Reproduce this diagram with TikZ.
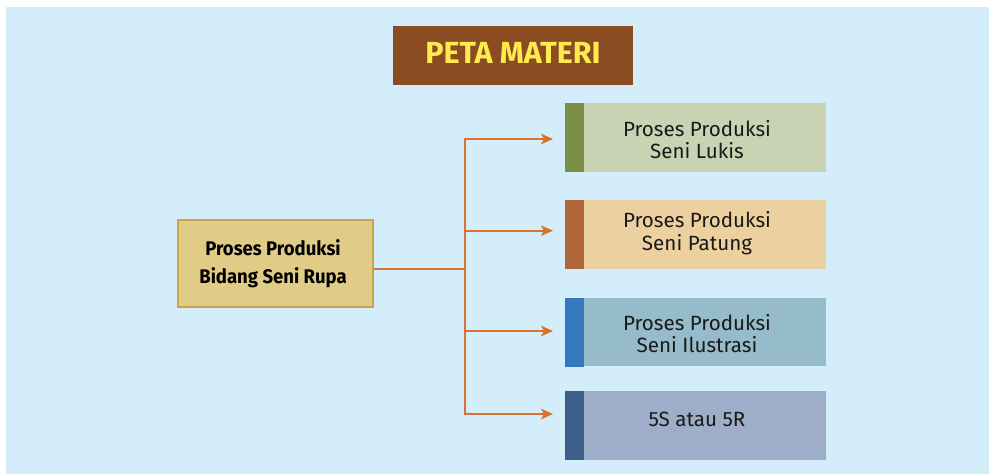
\documentclass[tikz,border=0pt]{standalone}
\usepackage{fontspec}
\setmainfont{Fira Sans}
\newfontfamily\condbold[FakeStretch=0.94]{Fira Sans}
\usetikzlibrary{arrows.meta}

\definecolor{bgblue}{HTML}{D3EEFA}
\definecolor{titlefill}{HTML}{8B4C22}
\definecolor{titletext}{HTML}{FFEB4D}
\definecolor{srcfill}{HTML}{E0CC86}
\definecolor{srcline}{HTML}{C8A548}
\definecolor{linkc}{HTML}{D8722E}
\definecolor{stripA}{HTML}{7A9046}
\definecolor{fillA}{HTML}{C9D3B4}
\definecolor{stripB}{HTML}{B06538}
\definecolor{fillB}{HTML}{EDD09F}
\definecolor{stripC}{HTML}{3478BE}
\definecolor{fillC}{HTML}{96BCCB}
\definecolor{stripD}{HTML}{3D5E8A}
\definecolor{fillD}{HTML}{9EAEC8}

\tikzset{
  titlebox/.style={fill=titlefill, minimum width=240, minimum height=58.7, inner sep=0},
  titletxt/.style={anchor=base, inner sep=0, text=titletext,
    font=\bfseries\fontsize{30.5}{32}\selectfont},
  srcbox/.style={fill=srcfill, draw=srcline, line width=1.2, minimum width=195, minimum height=87,
    inner sep=0},
  srctxt/.style={anchor=base, inner sep=0, font=\condbold\bfseries\fontsize{19.7}{27.5}\selectfont},
  topicbox/.style={minimum width=261, minimum height=68.5, inner sep=0},
  topictxt/.style={anchor=base, inner sep=0, text=black!90,
    font=\fontsize{20.6}{22.3}\selectfont},
  link/.style={draw=linkc, line width=2},
  linkarrow/.style={link, -{Stealth[length=12, width=10.5, inset=3]}},
}

% two centred lines whose reference point is the first baseline
\newcommand{\twolines}[2]{\begin{tabular}[t]{@{}c@{}}#1\\#2\end{tabular}}
\newcommand{\topicstrip}[2]{\fill[#2] (#1.north west) rectangle ([xshift=19]#1.south west);}

\begin{document}
\begin{tikzpicture}[x=1pt, y=-1pt]
  \useasboundingbox (0,0) rectangle (989,474);
  \fill[white] (0,0) rectangle (989,474);
  \fill[bgblue] (6,7) rectangle (989,474);

  % heading
  \node[titlebox] (title) at (513,55.3) {};
  \node[titletxt] (titlet) at (513,63) {PETA MATERI};

  % central topic
  \node[srcbox] (src) at (275.5,263.5) {};
  \node[srctxt] (srct) at (273,255.7) {\twolines{Proses Produksi}{Bidang Seni Rupa}};

  % sub-topics
  \node[topicbox, fill=fillA] (b1) at (695.5,137.3) {};
  \node[topicbox, fill=fillB] (b2) at (695.5,234.5) {};
  \node[topicbox, fill=fillC] (b3) at (695.5,332.2) {};
  \node[topicbox, fill=fillD] (b4) at (695.5,425.5) {};
  \topicstrip{b1}{stripA}
  \topicstrip{b2}{stripB}
  \topicstrip{b3}{stripC}
  \topicstrip{b4}{stripD}
  \node[topictxt] (b1t) at (697,136) {\twolines{Proses Produksi}{Seni Lukis}};
  \node[topictxt] (b2t) at (697,227.7) {\twolines{Proses Produksi}{Seni Patung}};
  \node[topictxt] (b3t) at (697,330) {\twolines{Proses Produksi}{Seni Ilustrasi}};
  \node[topictxt] (b4t) at (697,426) {5S atau 5R};

  % branching points and arrow ends
  \coordinate (hub) at (465,269.3);
  \coordinate (j1) at (465,139);
  \coordinate (j2) at (465,230.7);
  \coordinate (j3) at (465,331);
  \coordinate (j4) at (465,414);
  \coordinate (t1) at (553,139);
  \coordinate (t2) at (553,230.7);
  \coordinate (t3) at (553,331);
  \coordinate (t4) at (553,414);

  \draw[link] (src.east |- hub) -- (hub);
  \draw[link, line cap=rect] (j1) -- (j4);
  \draw[linkarrow] (j1) -- (t1);
  \draw[linkarrow] (j2) -- (t2);
  \draw[linkarrow] (j3) -- (t3);
  \draw[linkarrow] (j4) -- (t4);
\end{tikzpicture}
\end{document}
